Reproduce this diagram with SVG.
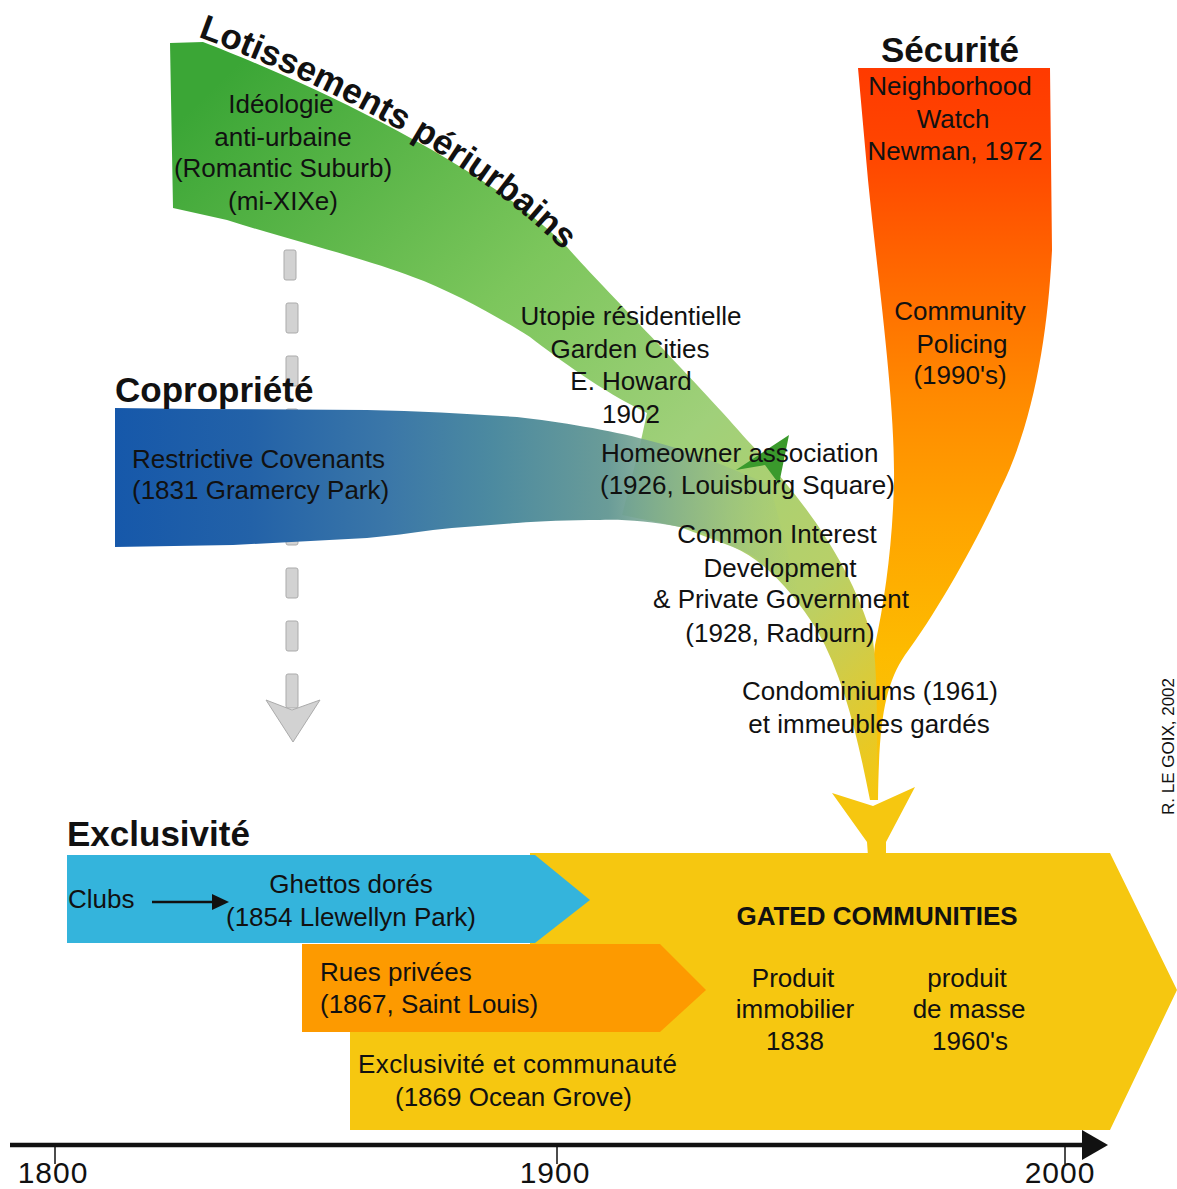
<svg xmlns="http://www.w3.org/2000/svg" width="1177" height="1189" viewBox="0 0 1177 1189">
<defs>
<style>
.t{font-family:"Liberation Sans",Arial,Helvetica,sans-serif;font-size:26px;fill:#111;}
.c{text-anchor:middle;}
.h{font-family:"Liberation Sans",Arial,Helvetica,sans-serif;font-weight:bold;font-size:35px;fill:#111;}
.ax{font-family:"Liberation Sans",Arial,Helvetica,sans-serif;font-size:30px;fill:#111;text-anchor:middle;letter-spacing:1px;}
.dash{fill:#d2d2d2;stroke:#ababab;stroke-width:1;}
</style>
<linearGradient id="gGreen" gradientUnits="userSpaceOnUse" x1="200" y1="100" x2="870" y2="800">
<stop offset="0" stop-color="#3ba636"/>
<stop offset="0.36" stop-color="#7cc65c"/>
<stop offset="0.6" stop-color="#a0d07a"/>
<stop offset="0.8" stop-color="#b8d068"/>
<stop offset="0.88" stop-color="#d0cc48"/>
<stop offset="1" stop-color="#f6c710"/>
</linearGradient>
<linearGradient id="gOrange" gradientUnits="userSpaceOnUse" x1="0" y1="68" x2="0" y2="800">
<stop offset="0" stop-color="#ff3a00"/>
<stop offset="0.12" stop-color="#ff4600"/>
<stop offset="0.3" stop-color="#ff6c00"/>
<stop offset="0.45" stop-color="#ff8a00"/>
<stop offset="0.62" stop-color="#ffa400"/>
<stop offset="0.8" stop-color="#fdbb00"/>
<stop offset="1" stop-color="#f6c710"/>
</linearGradient>
<linearGradient id="gBlue" gradientUnits="userSpaceOnUse" x1="115" y1="0" x2="800" y2="0">
<stop offset="0" stop-color="#1658aa"/>
<stop offset="0.2" stop-color="#2362a8"/>
<stop offset="0.4" stop-color="#3b77a8"/>
<stop offset="0.55" stop-color="#4c8aa0"/>
<stop offset="0.72" stop-color="#6a9c98" stop-opacity="1"/>
<stop offset="0.86" stop-color="#8cb488" stop-opacity="0.7"/>
<stop offset="1" stop-color="#a0c880" stop-opacity="0"/>
</linearGradient>
<path id="lotPath" d="M198,37 C290,70 470,150 574,262"/>
</defs>

<g id="connectors">
<g id="dashed-arrow">
<rect class="dash" x="284" y="250" width="12" height="30" rx="2"/>
<rect class="dash" x="286" y="303" width="12" height="30" rx="2"/>
<rect class="dash" x="286" y="356" width="12" height="30" rx="2"/>
<rect class="dash" x="286" y="409" width="12" height="30" rx="2"/>
<rect class="dash" x="286" y="462" width="12" height="30" rx="2"/>
<rect class="dash" x="286" y="515" width="12" height="30" rx="2"/>
<rect class="dash" x="286" y="568" width="12" height="30" rx="2"/>
<rect class="dash" x="286" y="621" width="12" height="30" rx="2"/>
<rect class="dash" x="286" y="674" width="12" height="34" rx="2"/>
<polygon class="dash" points="266,700 292,710 320,700 293,742"/>
</g>
</g>

<g id="securite">
<path d="M858,68 L1050,68 L1052,250 C1048,330 1035,420 1000,490 C975,545 935,615 905,655 C885,685 879,720 878,800 L872,800 C872,720 872,665 875,645 C885,600 893,540 894,480 C895,400 878,280 868,180 Z" fill="url(#gOrange)"/>
</g>

<g id="lotissements">
<path d="M170,43 L203,42 C290,75 480,160 567,247 C600,285 700,385 747,440 C800,495 850,560 873,640 C878,680 877,740 877,800 L870,800 C858,740 845,680 817,630 C795,595 765,560 733,547 L680,527 L622,515 L640,445 L647,413 C600,390 560,360 530,337 C500,318 450,290 413,277 C370,260 290,240 227,220 L173,208 Z" fill="url(#gGreen)"/>
</g>

<g id="copropriete">
<path d="M115,408 L200,409 L367,410 C420,411 470,414 517,417 C560,422 610,430 647,440 C690,450 735,470 770,485 L803,610 C795,597 790,588 783,580 C765,562 750,553 733,547 C715,538 700,530 680,527 C650,521 620,519 600,520 C570,520 540,521 517,523 C490,525 460,527 433,530 C410,533 390,536 367,538 L233,545 L115,547 Z" fill="url(#gBlue)"/>
</g>

<g id="green-arrowhead">
<polygon points="736,470 789,435 779,484 765,465" fill="#3a9a2c"/>
</g>

<g id="yellow-arrowhead">
<polygon points="832,793 873,806 915,787 886,842 886,856 868,856 867,842" fill="#f6c710"/>
</g>

<g id="gated">
<polygon points="530,853 1110,853 1177,990 1110,1130 350,1130 350,1032 530,1032" fill="#f6c710"/>
</g>
<g id="clubs">
<polygon points="67,855 535,855 590,900 535,943 67,943" fill="#34b4dc"/>
</g>
<g id="rues">
<polygon points="302,944 660,944 706,990 660,1032 302,1032" fill="#fd9a00"/>
</g>

<g id="connectors-small">
<line x1="152" y1="902" x2="216" y2="902" stroke="#111" stroke-width="2.5"/>
<polygon points="212,894 229,902 212,910" fill="#111"/>
</g>

<g id="axis">
<line x1="10" y1="1145" x2="1090" y2="1145" stroke="#111" stroke-width="4.5"/>
<polygon points="1082,1130 1108,1145 1082,1160" fill="#111"/>
<line x1="55" y1="1145" x2="55" y2="1164" stroke="#111" stroke-width="1.5"/>
<line x1="557" y1="1145" x2="557" y2="1164" stroke="#111" stroke-width="1.5"/>
<line x1="1065" y1="1145" x2="1065" y2="1164" stroke="#111" stroke-width="1.5"/>
<text class="ax" x="53" y="1183">1800</text>
<text class="ax" x="555" y="1183">1900</text>
<text class="ax" x="1060" y="1183">2000</text>
</g>

<g id="texts">
<text class="h"><textPath href="#lotPath">Lotissements périurbains</textPath></text>
<text class="h" x="950" y="62" text-anchor="middle">Sécurité</text>
<text class="h" x="115" y="402">Copropriété</text>
<text class="h" x="67" y="846">Exclusivité</text>

<text class="t c" x="281" y="113">Idéologie</text>
<text class="t c" x="283" y="146">anti-urbaine</text>
<text class="t c" x="283" y="177">(Romantic Suburb)</text>
<text class="t c" x="283" y="210">(mi-XIXe)</text>

<text class="t c" x="950" y="95">Neighborhood</text>
<text class="t c" x="953" y="128">Watch</text>
<text class="t c" x="955" y="160">Newman, 1972</text>

<text class="t c" x="960" y="320">Community</text>
<text class="t c" x="962" y="353">Policing</text>
<text class="t c" x="960" y="384">(1990's)</text>

<text class="t" x="132" y="468">Restrictive Covenants</text>
<text class="t" x="132" y="499">(1831 Gramercy Park)</text>

<text class="t c" x="631" y="325">Utopie résidentielle</text>
<text class="t c" x="630" y="358">Garden Cities</text>
<text class="t c" x="631" y="390">E. Howard</text>
<text class="t c" x="631" y="423">1902</text>

<text class="t" x="601" y="462">Homeowner association</text>
<text class="t" x="600" y="494">(1926, Louisburg Square)</text>

<text class="t c" x="777" y="543">Common Interest</text>
<text class="t c" x="780" y="577">Development</text>
<text class="t c" x="781" y="608">&amp; Private Government</text>
<text class="t c" x="780" y="642">(1928, Radburn)</text>

<text class="t c" x="870" y="700">Condominiums (1961)</text>
<text class="t c" x="869" y="733">et immeubles gardés</text>

<text class="t" x="68" y="908">Clubs</text>
<text class="t c" x="351" y="893">Ghettos dorés</text>
<text class="t c" x="351" y="926">(1854 Llewellyn Park)</text>
<text class="t" x="320" y="981">Rues privées</text>
<text class="t" x="320" y="1013">(1867, Saint Louis)</text>
<text class="t" x="358" y="1073" style="letter-spacing:0.4px">Exclusivité et communauté</text>
<text class="t" x="395" y="1106">(1869 Ocean Grove)</text>

<text class="t c" x="877" y="925" style="font-weight:bold">GATED COMMUNITIES</text>
<text class="t c" x="793" y="987">Produit</text>
<text class="t c" x="795" y="1018">immobilier</text>
<text class="t c" x="795" y="1050">1838</text>
<text class="t c" x="967" y="987">produit</text>
<text class="t c" x="969" y="1018">de masse</text>
<text class="t c" x="970" y="1050">1960's</text>

<text class="t" transform="translate(1174,815) rotate(-90)" style="font-size:17px">R. LE GOIX, 2002</text>
</g>
</svg>
